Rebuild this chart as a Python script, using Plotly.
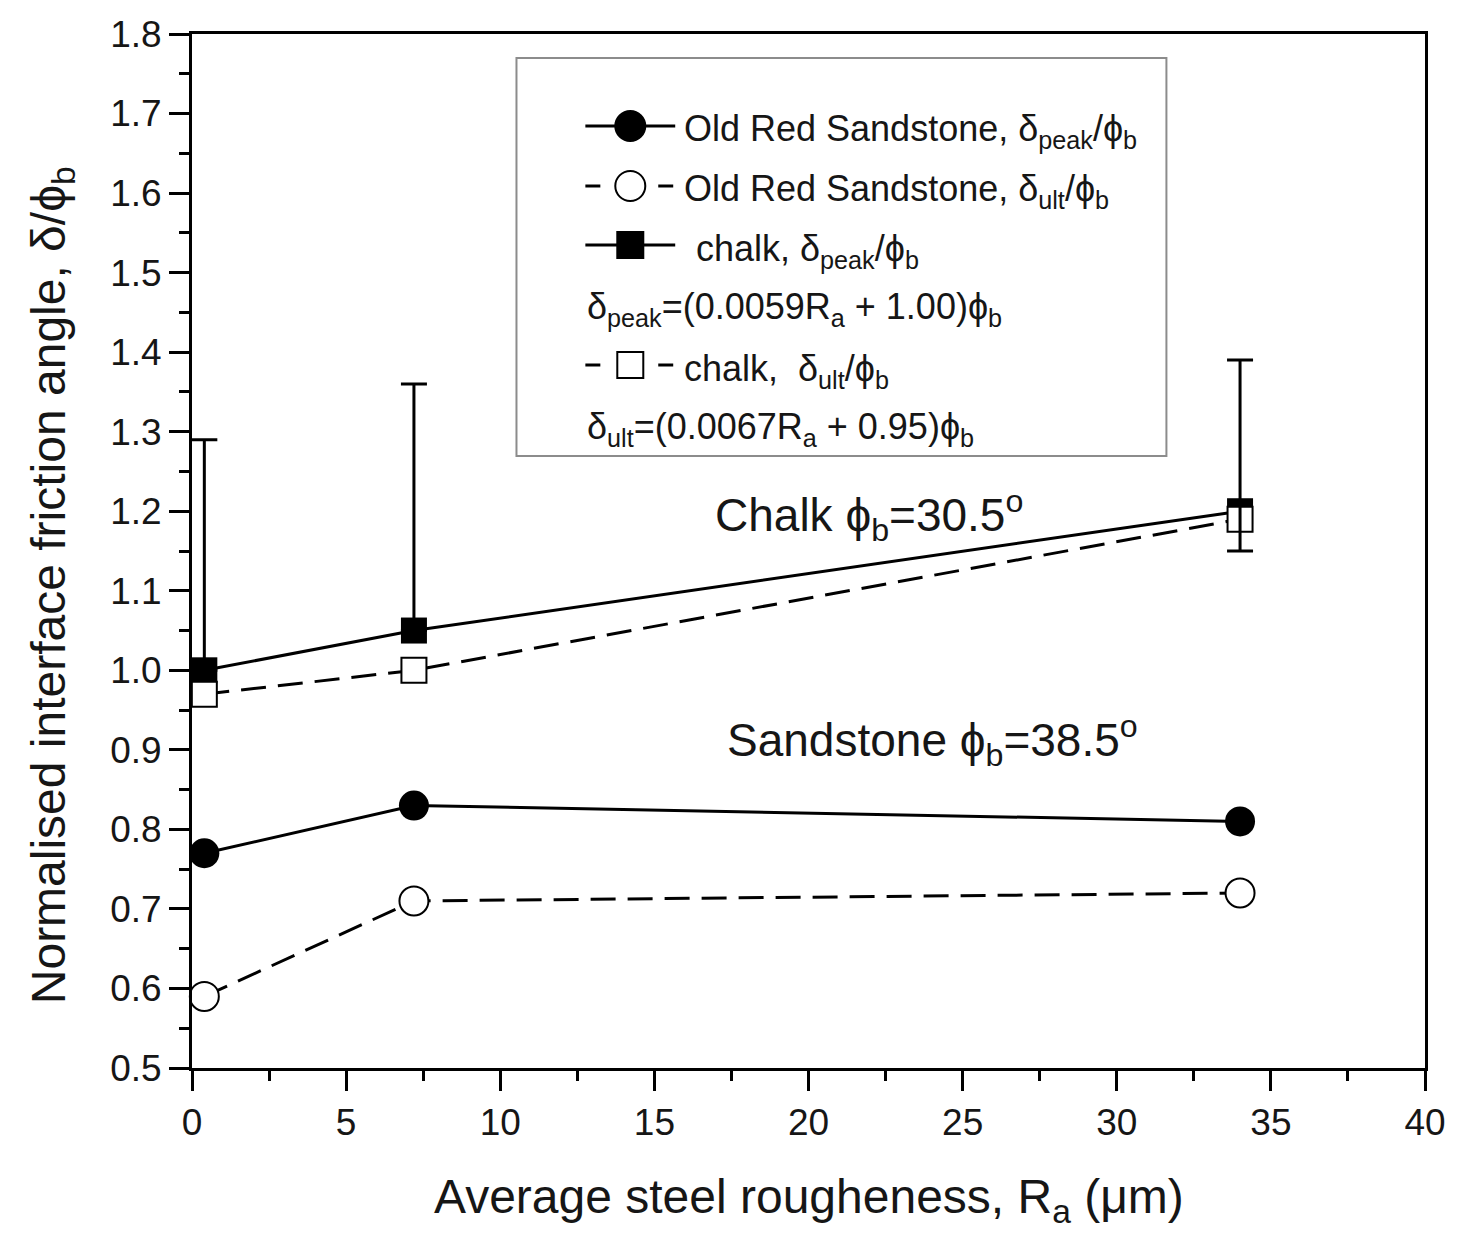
import plotly.graph_objects as go

# Average steel roughness Ra (um) of the three interface plates
ra = [0.4, 7.2, 34.0]

# Normalised interface friction angle delta/phi_b
sand_peak = [0.77, 0.83, 0.81]
sand_ult = [0.59, 0.71, 0.72]
chalk_peak = [1.00, 1.05, 1.20]
chalk_ult = [0.97, 1.00, 1.19]

# Scatter of the chalk peak values
chalk_peak_err_plus = [0.29, 0.31, 0.19]
chalk_peak_err_minus = [0.0, 0.0, 0.05]

x_ticks = [0, 5, 10, 15, 20, 25, 30, 35, 40]
y_ticks = [0.5, 0.6, 0.7, 0.8, 0.9, 1.0, 1.1, 1.2, 1.3, 1.4, 1.5, 1.6, 1.7, 1.8]

FONT = "Liberation Sans, Arial, sans-serif"
INK = "#161616"

W, H = 1458, 1241
ML, MR, MT, MB = 192, 31, 34, 173
PW, PH = W - ML - MR, H - MT - MB


def px(xp):
    return (xp - ML) / PW


def py(yp):
    return (H - MB - yp) / PH


fig = go.Figure()

fig.add_trace(go.Scatter(
    x=ra, y=sand_peak, mode="lines+markers", cliponaxis=False,
    line=dict(color="black", width=3),
    marker=dict(symbol="circle", size=30, color="black"),
))
fig.add_trace(go.Scatter(
    x=ra, y=sand_ult, mode="lines+markers", cliponaxis=False,
    line=dict(color="black", width=3, dash="25px,12px"),
    marker=dict(symbol="circle", size=29, color="white", line=dict(color="black", width=2)),
))
fig.add_trace(go.Scatter(
    x=ra, y=chalk_peak, mode="lines+markers", cliponaxis=False,
    line=dict(color="black", width=3),
    marker=dict(symbol="square", size=26, color="black"),
))
fig.add_trace(go.Scatter(
    x=ra, y=chalk_ult, mode="lines+markers", cliponaxis=False,
    line=dict(color="black", width=3, dash="25px,12px"),
    marker=dict(symbol="square", size=25, color="white", line=dict(color="black", width=2)),
))
# error bars of the chalk peak series, drawn over the markers
fig.add_trace(go.Scatter(
    x=ra, y=chalk_peak, mode="markers", cliponaxis=False,
    marker=dict(size=1, color="rgba(0,0,0,0)"),
    error_y=dict(type="data", symmetric=False, array=chalk_peak_err_plus,
                 arrayminus=chalk_peak_err_minus, color="black", thickness=3, width=13),
))

shapes = []
annotations = []

# legend frame
shapes.append(dict(type="rect", xref="paper", yref="paper",
                   x0=px(517), x1=px(1168), y0=py(456), y1=py(58),
                   line=dict(color="#8c8c8c", width=2), fillcolor="white", layer="above"))


def sample(row_y, symbol, filled, dashed):
    yc = py(row_y)
    if dashed:
        for a, b in [(586, 601), (659, 674)]:
            shapes.append(dict(type="line", xref="paper", yref="paper",
                               x0=px(a), x1=px(b), y0=yc, y1=yc,
                               line=dict(color="black", width=3)))
    else:
        shapes.append(dict(type="line", xref="paper", yref="paper",
                           x0=px(586), x1=px(676), y0=yc, y1=yc,
                           line=dict(color="black", width=3)))
    half = 15 if symbol == "circle" else 13
    shapes.append(dict(type=symbol, xref="paper", yref="paper",
                       xsizemode="pixel", ysizemode="pixel",
                       xanchor=px(631), yanchor=yc,
                       x0=-half, x1=half, y0=-half, y1=half,
                       fillcolor="black" if filled else "white",
                       line=dict(color="black", width=2)))


def text(x_px, y_px, s, size=36):
    annotations.append(dict(xref="paper", yref="paper", x=px(x_px), y=py(y_px),
                            xanchor="left", yanchor="middle", showarrow=False,
                            text=s, font=dict(family=FONT, size=size, color=INK)))


sample(126, "circle", True, False)
text(683, 131, "Old Red Sandstone, δ<sub>peak</sub>/ϕ<sub>b</sub>")
sample(186, "circle", False, True)
text(683, 191, "Old Red Sandstone, δ<sub>ult</sub>/ϕ<sub>b</sub>")
sample(245, "rect", True, False)
text(695, 251, "chalk, δ<sub>peak</sub>/ϕ<sub>b</sub>")
text(586, 309, "δ<sub>peak</sub>=(0.0059R<sub>a</sub> + 1.00)ϕ<sub>b</sub>")
sample(365, "rect", False, True)
text(683, 371, "chalk,  δ<sub>ult</sub>/ϕ<sub>b</sub>")
text(586, 429, "δ<sub>ult</sub>=(0.0067R<sub>a</sub> + 0.95)ϕ<sub>b</sub>")

# material labels
annotations.append(dict(xref="x", yref="y", x=16.9, y=1.195, xanchor="left", yanchor="middle",
                        showarrow=False, text="Chalk ϕ<sub>b</sub>=30.5<sup>o</sup>",
                        font=dict(family=FONT, size=46, color=INK)))
annotations.append(dict(xref="x", yref="y", x=17.3, y=0.912, xanchor="left", yanchor="middle",
                        showarrow=False, text="Sandstone ϕ<sub>b</sub>=38.5<sup>o</sup>",
                        font=dict(family=FONT, size=46, color=INK)))

# axis titles
annotations.append(dict(xref="paper", yref="paper", x=0.5, y=py(1200),
                        xanchor="center", yanchor="middle", showarrow=False,
                        text="Average steel rougheness, R<sub>a</sub> (μm)",
                        font=dict(family=FONT, size=48, color=INK)))
annotations.append(dict(xref="paper", yref="paper", x=px(52), y=py(585),
                        xanchor="center", yanchor="middle", showarrow=False, textangle=-90,
                        text="Normalised interface friction angle, δ/ϕ<sub>b</sub>",
                        font=dict(family=FONT, size=48, color=INK)))

axis_common = dict(
    showgrid=False, zeroline=False, showline=True, linecolor="black", linewidth=3,
    mirror=True, ticks="outside", ticklen=20, tickwidth=3, tickcolor="black",
    tickfont=dict(family=FONT, size=37, color=INK),
)

fig.update_layout(
    width=W, height=H,
    margin=dict(l=ML, r=MR, t=MT, b=MB),
    paper_bgcolor="white", plot_bgcolor="white",
    showlegend=False,
    shapes=shapes,
    annotations=annotations,
    xaxis=dict(range=[0, 40], tickvals=x_ticks, ticktext=[str(v) for v in x_ticks],
               minor=dict(dtick=2.5, tick0=0, ticks="outside", ticklen=10, tickwidth=3,
                          tickcolor="black"),
               **axis_common),
    yaxis=dict(range=[0.5, 1.8], tickvals=y_ticks, ticktext=[f"{v:.1f}" for v in y_ticks],
               minor=dict(dtick=0.05, tick0=0.5, ticks="outside", ticklen=10, tickwidth=3,
                          tickcolor="black"),
               **axis_common),
)

fig.write_html("out.html")
